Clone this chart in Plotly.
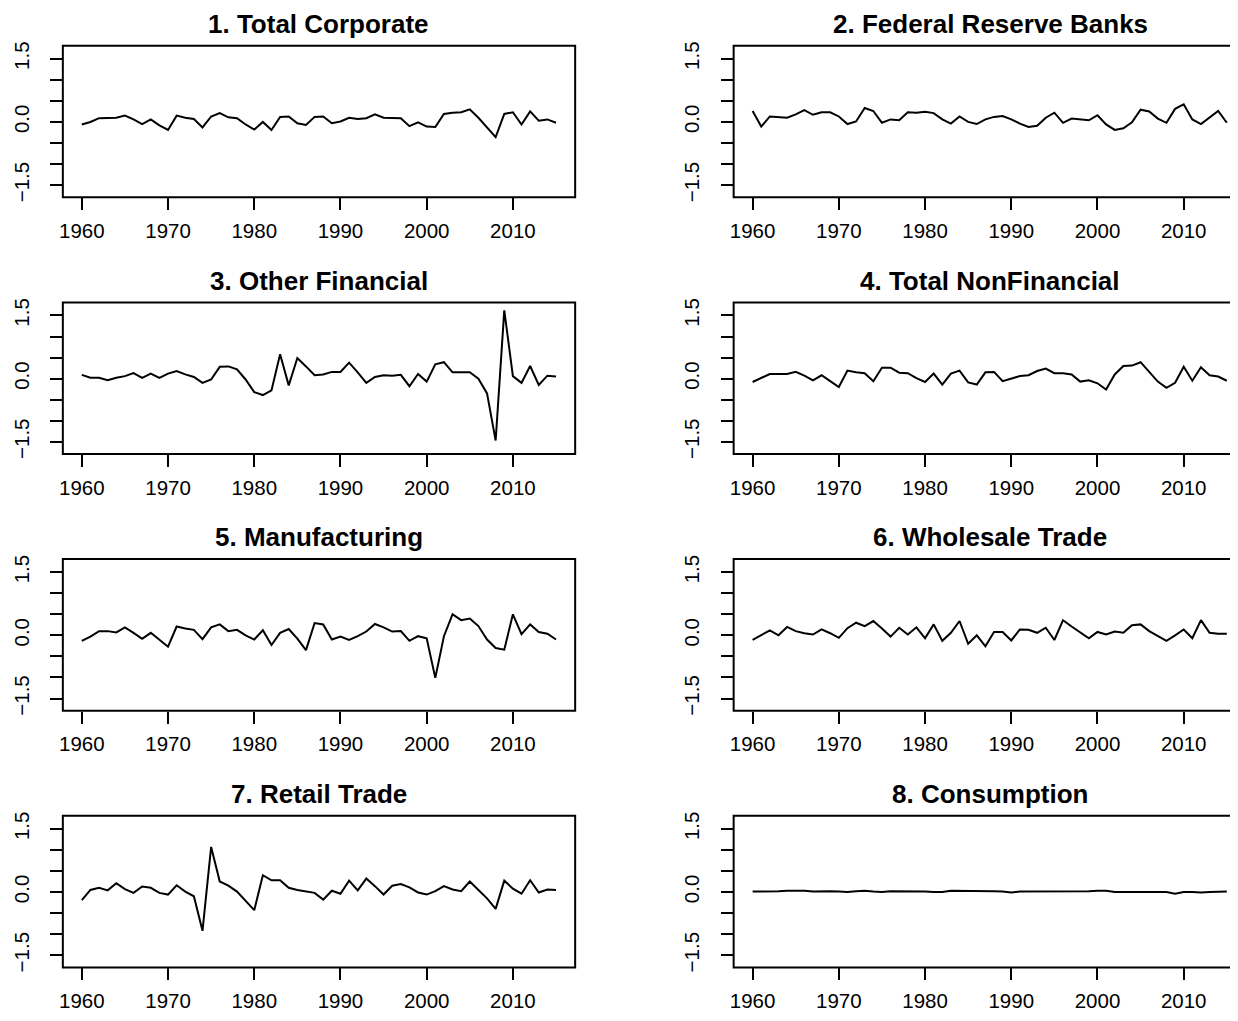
import plotly.graph_objects as go

years = list(range(1960, 2016))

titles = ["1. Total Corporate", "2. Federal Reserve Banks", "3. Other Financial",
          "4. Total NonFinancial", "5. Manufacturing", "6. Wholesale Trade",
          "7. Retail Trade", "8. Consumption"]

total_corporate = [-0.06, 0.0, 0.09, 0.09, 0.1, 0.15, 0.06, -0.05, 0.06, -0.08,
                   -0.19, 0.15, 0.1, 0.07, -0.13, 0.13, 0.21, 0.11, 0.09, -0.06,
                   -0.18, 0.0, -0.19, 0.12, 0.13, -0.03, -0.07, 0.12, 0.13, -0.03,
                   0.01, 0.1, 0.07, 0.09, 0.18, 0.1, 0.1, 0.09, -0.1, -0.01,
                   -0.11, -0.12, 0.19, 0.22, 0.23, 0.3, 0.1, -0.13, -0.36, 0.19,
                   0.23, -0.06, 0.25, 0.03, 0.06, -0.02]

federal_reserve = [0.26, -0.11, 0.13, 0.12, 0.1, 0.18, 0.28, 0.17, 0.23, 0.23,
                   0.13, -0.05, 0.01, 0.33, 0.26, -0.02, 0.06, 0.04, 0.23, 0.22,
                   0.24, 0.21, 0.06, -0.04, 0.13, 0.0, -0.05, 0.06, 0.12, 0.14,
                   0.06, -0.04, -0.12, -0.09, 0.1, 0.22, -0.02, 0.08, 0.06, 0.04,
                   0.16, -0.06, -0.19, -0.15, -0.01, 0.29, 0.25, 0.08, -0.02, 0.31,
                   0.42, 0.06, -0.05, 0.1, 0.26, -0.02]

other_financial = [0.09, 0.02, 0.02, -0.04, 0.02, 0.06, 0.13, 0.02, 0.12, 0.02,
                   0.12, 0.18, 0.1, 0.04, -0.1, -0.02, 0.28, 0.29, 0.22, -0.02,
                   -0.32, -0.39, -0.28, 0.58, -0.16, 0.49, 0.29, 0.08, 0.1, 0.16,
                   0.16, 0.38, 0.15, -0.1, 0.04, 0.08, 0.07, 0.09, -0.18, 0.11,
                   -0.07, 0.34, 0.39, 0.15, 0.15, 0.15, 0.0, -0.35, -1.47, 1.62,
                   0.06, -0.1, 0.3, -0.15, 0.07, 0.05]

total_nonfinancial = [-0.08, 0.01, 0.11, 0.11, 0.11, 0.16, 0.07, -0.04, 0.08, -0.06,
                      -0.2, 0.19, 0.15, 0.13, -0.06, 0.26, 0.26, 0.14, 0.13, 0.01,
                      -0.08, 0.12, -0.14, 0.12, 0.19, -0.09, -0.14, 0.15, 0.16, -0.06,
                      0.0, 0.06, 0.08, 0.18, 0.24, 0.13, 0.13, 0.1, -0.07, -0.04,
                      -0.11, -0.26, 0.1, 0.3, 0.31, 0.39, 0.16, -0.07, -0.22, -0.1,
                      0.28, -0.05, 0.27, 0.08, 0.05, -0.05]

manufacturing = [-0.13, -0.03, 0.1, 0.1, 0.07, 0.19, 0.06, -0.08, 0.06, -0.1,
                 -0.27, 0.21, 0.16, 0.13, -0.09, 0.19, 0.26, 0.1, 0.13, 0.0,
                 -0.1, 0.12, -0.23, 0.06, 0.15, -0.08, -0.35, 0.29, 0.26, -0.1,
                 -0.03, -0.11, -0.02, 0.09, 0.27, 0.19, 0.09, 0.1, -0.13, -0.02,
                 -0.07, -1.01, -0.02, 0.5, 0.36, 0.4, 0.22, -0.1, -0.3, -0.34,
                 0.5, 0.03, 0.26, 0.08, 0.04, -0.1]

wholesale_trade = [-0.11, 0.01, 0.12, 0.0, 0.2, 0.1, 0.05, 0.02, 0.14, 0.05,
                   -0.06, 0.17, 0.3, 0.22, 0.34, 0.16, -0.03, 0.18, 0.02, 0.19,
                   -0.07, 0.26, -0.13, 0.06, 0.34, -0.2, 0.0, -0.26, 0.08, 0.08,
                   -0.12, 0.14, 0.13, 0.06, 0.18, -0.11, 0.36, 0.21, 0.06, -0.07,
                   0.08, 0.02, 0.09, 0.06, 0.24, 0.26, 0.1, -0.02, -0.13, 0.0,
                   0.14, -0.07, 0.36, 0.06, 0.04, 0.04]

retail_trade = [-0.19, 0.05, 0.1, 0.04, 0.21, 0.07, -0.02, 0.13, 0.1, -0.02,
                -0.06, 0.16, 0.01, -0.1, -0.92, 1.07, 0.25, 0.15, 0.01, -0.22,
                -0.43, 0.4, 0.28, 0.28, 0.1, 0.05, 0.02, -0.02, -0.18, 0.03,
                -0.04, 0.27, 0.04, 0.32, 0.14, -0.06, 0.15, 0.19, 0.11, -0.01,
                -0.06, 0.02, 0.14, 0.06, 0.02, 0.25, 0.05, -0.15, -0.4, 0.27,
                0.08, -0.04, 0.28, -0.01, 0.06, 0.05]

consumption = [0.01, 0.01, 0.02, 0.02, 0.03, 0.03, 0.03, 0.01, 0.02, 0.02,
               0.01, 0.0, 0.02, 0.03, 0.01, 0.0, 0.02, 0.02, 0.02, 0.02,
               0.01, 0.0, 0.0, 0.03, 0.03, 0.02, 0.02, 0.02, 0.02, 0.01,
               -0.01, 0.01, 0.01, 0.01, 0.01, 0.01, 0.01, 0.02, 0.02, 0.02,
               0.03, 0.03, 0.0, 0.0, 0.01, 0.01, 0.01, 0.01, 0.0, -0.04,
               0.0, 0.0, -0.01, 0.0, 0.01, 0.01]

series = [total_corporate, federal_reserve, other_financial, total_nonfinancial,
          manufacturing, wholesale_trade, retail_trade, consumption]

x_tick_vals = [1960, 1970, 1980, 1990, 2000, 2010]
y_tick_vals = [-1.5, -1.0, -0.5, 0.0, 0.5, 1.0, 1.5]
y_tick_text = ["\u22121.5", "", "", "0.0", "", "", "1.5"]

# page body has an 8px margin, so the figure is laid out 8px smaller/shifted
W, H = 1230, 1013
FONT = "Liberation Sans, Arial, Helvetica, sans-serif"
row_tops = [34, 293, 552, 811]
box_h = 153
col_left = [(51, 565), (724, 1239)]
px_per_year = 8.65

fig = go.Figure()
layout = dict(width=W, height=H, margin=dict(l=0, r=0, t=0, b=0),
              paper_bgcolor="white", plot_bgcolor="white", showlegend=False,
              font=dict(family=FONT, color="black"))
shapes = []
annotations = []

for k in range(8):
    r, c = divmod(k, 2)
    xl, xr = col_left[c]
    top = row_tops[r]
    bot = top + box_h
    x0 = 1960 - 2.2
    vis_r = min(xr, W)
    x1 = x0 + (vis_r - xl) / px_per_year
    dom_x = [xl / W, vis_r / W]
    dom_y = [1 - bot / H, 1 - top / H]
    sfx = "" if k == 0 else str(k + 1)
    fig.add_trace(go.Scatter(x=years, y=series[k], mode="lines",
                             line=dict(color="black", width=2),
                             xaxis="x" + sfx, yaxis="y" + sfx,
                             hoverinfo="skip"))
    layout["xaxis" + sfx] = dict(
        domain=dom_x, range=[x0, x1], anchor="y" + sfx,
        tickvals=x_tick_vals, ticks="outside", ticklen=12, tickwidth=2,
        tickcolor="black", showgrid=False, zeroline=False, showline=False,
        tickfont=dict(size=20.5, family=FONT, color="black"),
        ticklabelstandoff=3, fixedrange=True)
    layout["yaxis" + sfx] = dict(
        domain=dom_y, range=[-1.79, 1.81], anchor="x" + sfx,
        tickvals=y_tick_vals, ticktext=y_tick_text, tickangle=-90,
        ticks="outside", ticklen=12, tickwidth=2, tickcolor="black",
        showgrid=False, zeroline=False, showline=False,
        tickfont=dict(size=20.5, family=FONT, color="black"),
        ticklabelstandoff=13, fixedrange=True)
    shapes.append(dict(type="rect", xref="paper", yref="paper",
                       x0=xl / W, x1=xr / W, y0=1 - bot / H, y1=1 - top / H,
                       line=dict(color="black", width=2), fillcolor="rgba(0,0,0,0)",
                       layer="above"))
    annotations.append(dict(text="<b>" + titles[k] + "</b>", xref="paper", yref="paper",
                            x=(xl + xr) / 2 / W, y=1 - (top - 22) / H,
                            xanchor="center", yanchor="middle", showarrow=False,
                            font=dict(size=26, family=FONT, color="black")))

layout["shapes"] = shapes
layout["annotations"] = annotations
fig.update_layout(**layout)
fig.write_html("out.html")
